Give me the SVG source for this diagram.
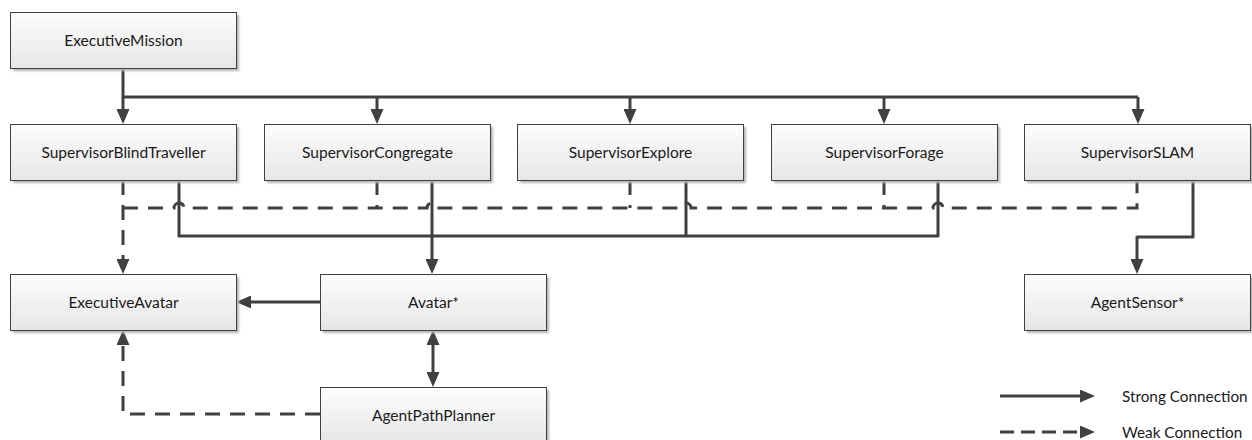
<svg xmlns="http://www.w3.org/2000/svg" width="1252" height="440" viewBox="0 0 1252 440">
  <defs>
    <linearGradient id="boxFill" x1="0" y1="0" x2="0" y2="1">
      <stop offset="0" stop-color="#fdfdfd"/>
      <stop offset="1" stop-color="#e6e6e6"/>
    </linearGradient>
    <filter id="soft" x="-5%" y="-20%" width="110%" height="140%">
      <feGaussianBlur stdDeviation="0.8"/>
    </filter>
    <marker id="arrow" viewBox="0 0 15 13" refX="1" refY="6.5" markerWidth="15" markerHeight="13" markerUnits="userSpaceOnUse" orient="auto-start-reverse">
      <path d="M0,0 L15,6.5 L0,13 z" fill="#404040"/>
    </marker>
  </defs>
  <style>
    .shadow { fill: #b4b4b4; filter: url(#soft); }
    .box { fill: url(#boxFill); stroke: #404040; stroke-width: 1; }
    .label { font-family: Lato, "Liberation Sans", sans-serif; font-size: 15.5px; fill: #1a1a1a; text-anchor: middle; }
    .legend { font-family: Lato, "Liberation Sans", sans-serif; font-size: 15.3px; fill: #1a1a1a; }
    .strong { fill: none; stroke: #404040; stroke-width: 3; stroke-linejoin: round; }
    .weak { fill: none; stroke: #404040; stroke-width: 3; stroke-dasharray: 15 10; }
    .weak-legend { fill: none; stroke: #404040; stroke-width: 3; stroke-dasharray: 14 7; }
    .arrowed { marker-end: url(#arrow); }
  </style>

  <!-- connectors -->
  <g id="connectors">
    <!-- mission fan-out to supervisors -->
    <path class="strong" d="M123 68 V97 H1138"/>
    <path class="strong arrowed" d="M123 97 V110"/>
    <path class="strong arrowed" d="M377 97 V110"/>
    <path class="strong arrowed" d="M630 97 V110"/>
    <path class="strong arrowed" d="M884 97 V110"/>
    <path class="strong arrowed" d="M1138 97 V110"/>

    <!-- weak links from supervisors to ExecutiveAvatar -->
    <path class="weak arrowed" d="M123 180 V260"/>
    <path class="weak" d="M123 208 H174 A5 5 0 0 1 184 208 H427 A5 5 0 0 1 437 208 H681 A5 5 0 0 1 691 208 H933 A5 5 0 0 1 943 208 H1137 V180"/>
    <path class="weak" d="M377 180 V208"/>
    <path class="weak" d="M630 180 V208"/>
    <path class="weak" d="M884 180 V208"/>

    <!-- strong links from supervisors to Avatar* -->
    <path class="strong" d="M179 180 V236 H938 V180"/>
    <path class="strong" d="M686 180 V236"/>
    <path class="strong arrowed" d="M432 180 V260"/>

    <!-- SupervisorSLAM to AgentSensor* -->
    <path class="strong arrowed" d="M1193 180 V237 H1137 V260"/>

    <!-- Avatar* to ExecutiveAvatar -->
    <path class="strong arrowed" d="M320 302 H250"/>

    <!-- Avatar* and AgentPathPlanner, both ways -->
    <path class="strong" d="M433 344 V373" marker-start="url(#arrow)" marker-end="url(#arrow)"/>

    <!-- AgentPathPlanner to ExecutiveAvatar -->
    <path class="weak arrowed" d="M320 414 H123 V344"/>
  </g>

  <!-- nodes -->
  <g id="executive-mission">
    <rect class="shadow" x="13" y="15" width="226" height="56"/>
    <rect class="box" x="10.5" y="12.5" width="226" height="56"/>
    <text class="label" x="123.5" y="45.5">ExecutiveMission</text>
  </g>
  <g id="supervisor-blind-traveller">
    <rect class="shadow" x="13" y="127" width="226" height="56"/>
    <rect class="box" x="10.5" y="124.5" width="226" height="56"/>
    <text class="label" x="123.5" y="157.5">SupervisorBlindTraveller</text>
  </g>
  <g id="supervisor-congregate">
    <rect class="shadow" x="267" y="127" width="226" height="56"/>
    <rect class="box" x="264.5" y="124.5" width="226" height="56"/>
    <text class="label" x="377.5" y="157.5">SupervisorCongregate</text>
  </g>
  <g id="supervisor-explore">
    <rect class="shadow" x="520" y="127" width="226" height="56"/>
    <rect class="box" x="517.5" y="124.5" width="226" height="56"/>
    <text class="label" x="630.5" y="157.5">SupervisorExplore</text>
  </g>
  <g id="supervisor-forage">
    <rect class="shadow" x="774" y="127" width="226" height="56"/>
    <rect class="box" x="771.5" y="124.5" width="226" height="56"/>
    <text class="label" x="884.5" y="157.5">SupervisorForage</text>
  </g>
  <g id="supervisor-slam">
    <rect class="shadow" x="1027" y="127" width="226" height="56"/>
    <rect class="box" x="1024.5" y="124.5" width="226" height="56"/>
    <text class="label" x="1137.5" y="157.5">SupervisorSLAM</text>
  </g>
  <g id="executive-avatar">
    <rect class="shadow" x="13" y="277" width="226" height="56"/>
    <rect class="box" x="10.5" y="274.5" width="226" height="56"/>
    <text class="label" x="123.5" y="307.5">ExecutiveAvatar</text>
  </g>
  <g id="avatar">
    <rect class="shadow" x="323" y="277" width="226" height="56"/>
    <rect class="box" x="320.5" y="274.5" width="226" height="56"/>
    <text class="label" x="433.5" y="307.5">Avatar*</text>
  </g>
  <g id="agent-path-planner">
    <rect class="shadow" x="323" y="390" width="226" height="56"/>
    <rect class="box" x="320.5" y="387.5" width="226" height="56"/>
    <text class="label" x="433.5" y="420.5">AgentPathPlanner</text>
  </g>
  <g id="agent-sensor">
    <rect class="shadow" x="1027" y="277" width="226" height="56"/>
    <rect class="box" x="1024.5" y="274.5" width="226" height="56"/>
    <text class="label" x="1137.5" y="307.5">AgentSensor*</text>
  </g>

  <!-- legend -->
  <g id="legend">
    <path class="strong arrowed" d="M1000 396 H1081"/>
    <text class="legend" x="1122" y="401.5">Strong Connection</text>
    <path class="weak-legend arrowed" d="M1000 432 H1081"/>
    <text class="legend" x="1122" y="437.5">Weak Connection</text>
  </g>
</svg>
